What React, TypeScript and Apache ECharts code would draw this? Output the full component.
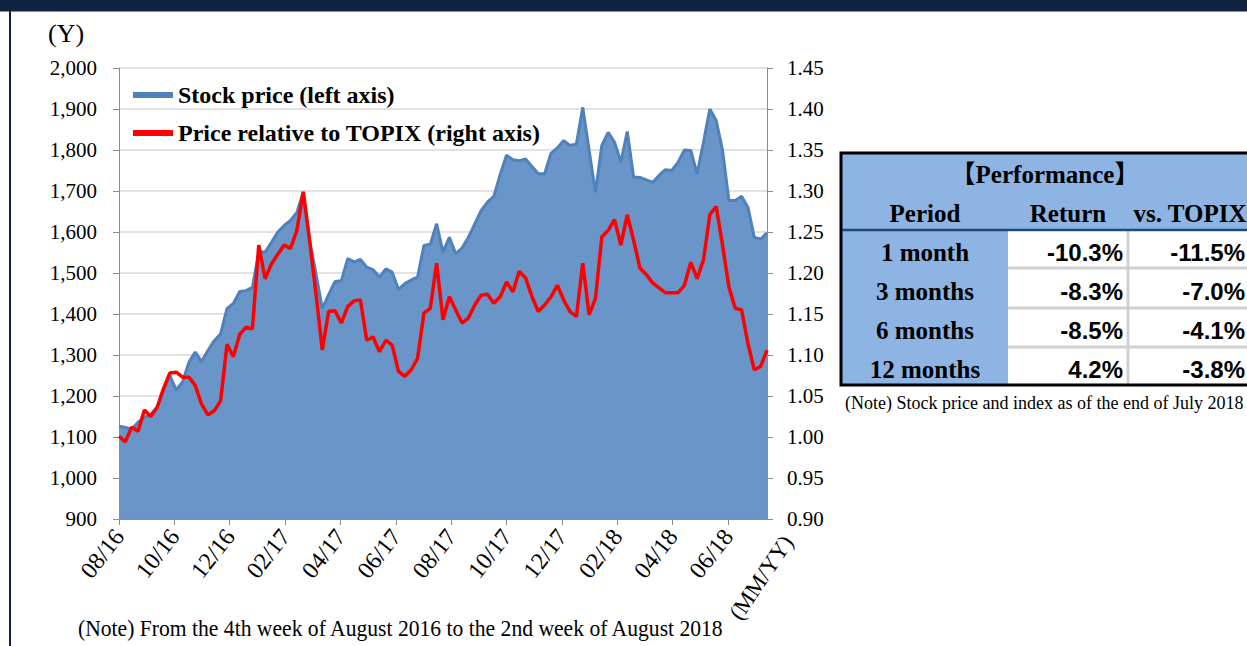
import React, { useEffect, useRef } from "react";
import * as echarts from "echarts";

// ---- data ----
const monthLabels = ["08/16", "10/16", "12/16", "02/17", "04/17", "06/17", "08/17", "10/17", "12/17", "02/18", "04/18", "06/18"];
const axisUnitLabel = "(MM/YY)";

// weekly closes, 4th week of Aug 2016 .. 2nd week of Aug 2018 (yen)
const stockPrice = [
  1126, 1123, 1119, 1136, 1148, 1155, 1173, 1213, 1250, 1215,
  1234, 1282, 1307, 1284, 1311, 1335, 1352, 1413, 1426, 1455,
  1457, 1465, 1551, 1551, 1575, 1600, 1616, 1628, 1648, 1697,
  1579, 1499, 1413, 1447, 1479, 1481, 1535, 1527, 1533, 1514,
  1508, 1490, 1510, 1502, 1460, 1474, 1483, 1490, 1567, 1570,
  1620, 1551, 1587, 1547, 1561, 1587, 1620, 1652, 1673, 1687,
  1740, 1787, 1776, 1774, 1778, 1760, 1742, 1742, 1792, 1805,
  1823, 1811, 1815, 1904, 1799, 1697, 1811, 1843, 1819, 1770,
  1845, 1734, 1733, 1727, 1721, 1738, 1752, 1750, 1770, 1800,
  1799, 1742, 1819, 1900, 1872, 1799, 1677, 1677, 1687, 1660,
  1587, 1583, 1598,
];

// price relative to TOPIX (right axis)
const relativeToTopix = [
  1.001, 0.994, 1.012, 1.007, 1.033, 1.025, 1.036, 1.059, 1.078, 1.079,
  1.073, 1.073, 1.063, 1.040, 1.027, 1.032, 1.044, 1.113, 1.098, 1.125,
  1.134, 1.132, 1.234, 1.193, 1.211, 1.223, 1.234, 1.230, 1.252, 1.299,
  1.240, 1.175, 1.106, 1.153, 1.154, 1.139, 1.159, 1.166, 1.167, 1.118,
  1.122, 1.104, 1.118, 1.112, 1.080, 1.074, 1.082, 1.096, 1.151, 1.157,
  1.212, 1.143, 1.171, 1.155, 1.139, 1.145, 1.161, 1.173, 1.174, 1.163,
  1.171, 1.189, 1.177, 1.202, 1.194, 1.171, 1.153, 1.161, 1.171, 1.185,
  1.167, 1.153, 1.147, 1.212, 1.149, 1.169, 1.244, 1.252, 1.265, 1.234,
  1.271, 1.240, 1.206, 1.198, 1.188, 1.182, 1.176, 1.176, 1.176, 1.185,
  1.213, 1.193, 1.216, 1.271, 1.281, 1.234, 1.183, 1.157, 1.155, 1.114,
  1.082, 1.086, 1.106,
];

const seriesNames = ["Stock price (left axis)", "Price relative to TOPIX (right axis)"];

const perfTitle = "【Performance】";
const perfHeaders = ["Period", "Return", "vs. TOPIX"];
const perfPeriods = ["1 month", "3 months", "6 months", "12 months"];
const perfReturn = ["-10.3%", "-8.3%", "-8.5%", "4.2%"];
const perfVsTopix = ["-11.5%", "-7.0%", "-4.1%", "-3.8%"];
const perfNote = "(Note) Stock price and index as of the end of July 2018";
const chartNote = "(Note) From the 4th week of August 2016 to the 2nd week of August 2018";
const yUnit = "(Y)";

// ---- styles ----
const SERIF = "'Liberation Serif', 'Times New Roman', serif";
const SERIF_CJK = "'Liberation Serif', 'Noto Sans CJK JP', serif";
const SANS = "'Liberation Sans', Arial, sans-serif";
const NAVY = "#0f2341";
const TABLE_BLUE = "#8db4e2";
const TICK_WEEKS = 61 / 7;
const LABEL_ROT = 52;

export default function App() {
  const ref = useRef<HTMLDivElement>(null);

  useEffect(() => {
    if (!ref.current) return;
    const chart = echarts.init(ref.current, undefined, { renderer: "svg" });
    const last = stockPrice.length - 1;

    const graphic: any[] = [];
    // frame
    graphic.push({ type: "rect", silent: true, shape: { x: 0, y: 0, width: 1247, height: 11 }, style: { fill: NAVY } });
    graphic.push({ type: "rect", silent: true, shape: { x: 0, y: 11, width: 1247, height: 1 }, style: { fill: "#7f8ca3" } });
    graphic.push({ type: "rect", silent: true, shape: { x: 9, y: 0, width: 2, height: 646 }, style: { fill: NAVY } });
    // unit + notes
    graphic.push({ type: "text", x: 48, y: 33, style: { text: yUnit, font: `26px ${SERIF}`, fill: "#000", verticalAlign: "middle" } });
    graphic.push({ type: "text", x: 78, y: 628, scaleX: 0.94, style: { text: chartNote, font: `23px ${SERIF}`, fill: "#000", verticalAlign: "middle" } });
    graphic.push({
      type: "text", x: 788, y: 538, rotation: (56 * Math.PI) / 180,
      style: { text: axisUnitLabel, font: `23px ${SERIF}`, fill: "#000", align: "right", verticalAlign: "middle" },
    });

    // table
    const tL = 841, tR = 1250, tTop = 153, hB = 230, tB = 385, c1 = 1008, c2 = 1128;
    const rowLines = [268, 308, 347];
    const rowCenters = [252, 291, 330, 369];
    graphic.push({ type: "rect", silent: true, shape: { x: tL, y: tTop, width: tR - tL, height: hB - tTop }, style: { fill: TABLE_BLUE } });
    graphic.push({ type: "rect", silent: true, shape: { x: tL, y: hB, width: c1 - tL, height: tB - hB }, style: { fill: TABLE_BLUE } });
    graphic.push({ type: "rect", silent: true, shape: { x: c1, y: hB, width: tR - c1, height: tB - hB }, style: { fill: "#ffffff" } });
    rowLines.forEach((y) => {
      graphic.push({ type: "line", silent: true, shape: { x1: c1, y1: y, x2: tR, y2: y }, style: { stroke: "#d0d0d0", lineWidth: 3 } });
    });
    graphic.push({ type: "line", silent: true, shape: { x1: c2, y1: hB, x2: c2, y2: tB }, style: { stroke: "#d0d0d0", lineWidth: 3 } });
    graphic.push({ type: "line", silent: true, shape: { x1: tL, y1: hB, x2: tR, y2: hB }, style: { stroke: "#1f497d", lineWidth: 2.5 } });
    graphic.push({ type: "rect", silent: true, shape: { x: tL, y: tTop, width: tR - tL, height: tB - tTop }, style: { fill: "none", stroke: "#000", lineWidth: 3 } });

    graphic.push({ type: "text", x: 1045, y: 174, style: { text: perfTitle, font: `bold 25px ${SERIF_CJK}`, fill: "#000", align: "center", verticalAlign: "middle" } });
    const headX = [925, 1068, 1190];
    perfHeaders.forEach((h, i) => {
      graphic.push({ type: "text", x: headX[i], y: 213, style: { text: h, font: `bold 25px ${SERIF}`, fill: "#000", align: "center", verticalAlign: "middle" } });
    });
    perfPeriods.forEach((p, i) => {
      graphic.push({ type: "text", x: 925, y: rowCenters[i], style: { text: p, font: `bold 25px ${SERIF}`, fill: "#000", align: "center", verticalAlign: "middle" } });
      graphic.push({ type: "text", x: 1123, y: rowCenters[i], style: { text: perfReturn[i], font: `bold 24px ${SANS}`, fill: "#000", align: "right", verticalAlign: "middle" } });
      graphic.push({ type: "text", x: 1245, y: rowCenters[i], style: { text: perfVsTopix[i], font: `bold 24px ${SANS}`, fill: "#000", align: "right", verticalAlign: "middle" } });
    });
    graphic.push({ type: "text", x: 845, y: 403, style: { text: perfNote, font: `18px ${SERIF}`, fill: "#000", verticalAlign: "middle" } });

    chart.setOption({
      animation: false,
      backgroundColor: "#ffffff",
      grid: { left: 119, right: 480, top: 68, bottom: 127 },
      legend: {
        left: 133,
        top: 81,
        padding: 0,
        orient: "vertical",
        icon: "rect",
        itemWidth: 40,
        itemHeight: 6,
        itemGap: 10,
        textStyle: { fontFamily: SERIF, fontSize: 24, fontWeight: "bold", color: "#000", lineHeight: 28 },
        data: seriesNames,
      },
      xAxis: {
        type: "value",
        min: 0,
        max: last,
        interval: TICK_WEEKS,
        axisLine: { show: true, lineStyle: { color: "#8c8c8c", width: 1 } },
        axisTick: { show: true, length: 6, lineStyle: { color: "#8c8c8c" } },
        splitLine: { show: false },
        axisLabel: {
          rotate: LABEL_ROT,
          margin: 13,
          fontFamily: SERIF,
          fontSize: 24,
          color: "#000",
          showMaxLabel: false,
          formatter: (v: number) => {
            if (v >= last - 0.01) return "";
            const k = Math.round(v / TICK_WEEKS);
            return monthLabels[k] ?? "";
          },
        },
      },
      yAxis: [
        {
          type: "value",
          min: 900,
          max: 2000,
          interval: 100,
          position: "left",
          axisLine: { show: true, lineStyle: { color: "#8c8c8c", width: 1 } },
          axisTick: { show: true, length: 6, lineStyle: { color: "#8c8c8c" } },
          splitLine: { show: true, lineStyle: { color: "#d9d9d9", width: 1.5 } },
          axisLabel: {
            margin: 22,
            fontFamily: SERIF,
            fontSize: 21,
            color: "#000",
            formatter: (v: number) => v.toLocaleString("en-US"),
          },
        },
        {
          type: "value",
          min: 0.9,
          max: 1.45,
          interval: 0.05,
          position: "right",
          axisLine: { show: true, lineStyle: { color: "#8c8c8c", width: 1 } },
          axisTick: { show: true, length: 6, lineStyle: { color: "#8c8c8c" } },
          splitLine: { show: false },
          axisLabel: {
            margin: 20,
            fontFamily: SERIF,
            fontSize: 21,
            color: "#000",
            formatter: (v: number) => v.toFixed(2),
          },
        },
      ],
      series: [
        {
          name: seriesNames[0],
          type: "line",
          yAxisIndex: 0,
          symbol: "none",
          color: "#4f81bd",
          lineStyle: { color: "#4f81bd", width: 3 },
          areaStyle: { color: "#6a95c8", opacity: 1, origin: "start" },
          data: stockPrice.map((v, i) => [i, v]),
          z: 2,
        },
        {
          name: seriesNames[1],
          type: "line",
          yAxisIndex: 1,
          symbol: "none",
          color: "#ff0000",
          lineStyle: { color: "#ff0000", width: 3.5 },
          data: relativeToTopix.map((v, i) => [i, v]),
          z: 3,
        },
      ],
      graphic,
    });

    return () => chart.dispose();
  }, []);

  return <div ref={ref} style={{ position: "absolute", left: 0, top: 0, width: 1247, height: 646 }} />;
}
